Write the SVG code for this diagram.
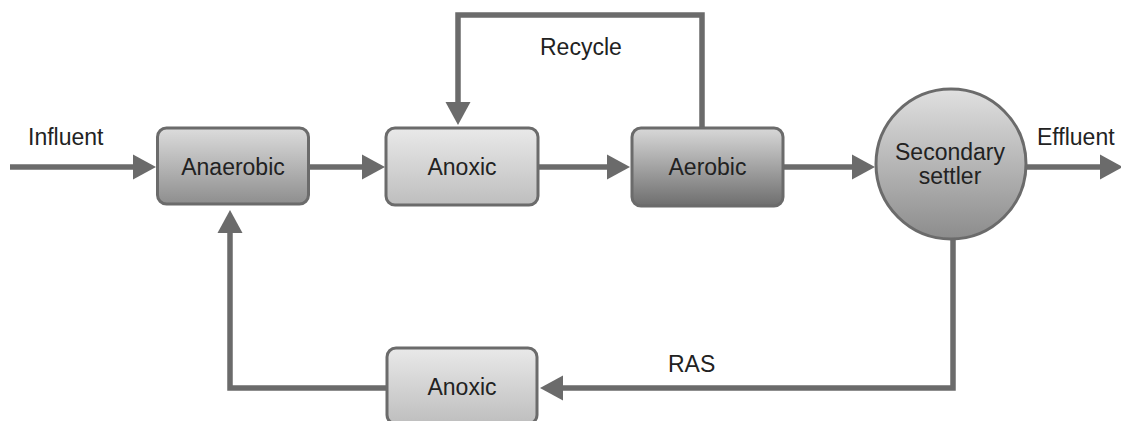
<svg xmlns="http://www.w3.org/2000/svg" width="1121" height="421" viewBox="0 0 1121 421">
  <style>
    .box { stroke: #6b6b6b; stroke-width: 3; }
    .lbl { font-family: "Liberation Sans", Arial, sans-serif; font-size: 23px; fill: #222; }
    .mid { text-anchor: middle; }
    .conn { fill: none; stroke: #6b6b6b; stroke-width: 5.5; stroke-linejoin: miter; }
  </style>
  <defs>
    <linearGradient id="gAnaerobic" x1="0" y1="0" x2="0" y2="1">
      <stop offset="0" stop-color="#dcdcdc"/>
      <stop offset="1" stop-color="#8e8e8e"/>
    </linearGradient>
    <linearGradient id="gAnoxic" x1="0" y1="0" x2="0" y2="1">
      <stop offset="0" stop-color="#e9e9e9"/>
      <stop offset="1" stop-color="#bebebe"/>
    </linearGradient>
    <linearGradient id="gAerobic" x1="0" y1="0" x2="0" y2="1">
      <stop offset="0" stop-color="#d8d8d8"/>
      <stop offset="1" stop-color="#6e6e6e"/>
    </linearGradient>
    <linearGradient id="gSettler" x1="0" y1="0" x2="0" y2="1">
      <stop offset="0" stop-color="#e0e0e0"/>
      <stop offset="1" stop-color="#8c8c8c"/>
    </linearGradient>
    <marker id="arrow" markerUnits="userSpaceOnUse" markerWidth="26" markerHeight="28" viewBox="0 -14 26 28" refX="1" refY="0" orient="auto">
      <path d="M0,-12.5 L23,0 L0,12.5 Z" fill="#6b6b6b"/>
    </marker>
  </defs>

  <g id="connectors">
    <path class="conn" d="M10,167 H134" marker-end="url(#arrow)"/>
    <path class="conn" d="M309,167 H363" marker-end="url(#arrow)"/>
    <path class="conn" d="M538,167 H608" marker-end="url(#arrow)"/>
    <path class="conn" d="M783,167 H853" marker-end="url(#arrow)"/>
    <path class="conn" d="M1026,167 H1101" marker-end="url(#arrow)"/>
    <path class="conn" d="M702,128 V15 H458 V103" marker-end="url(#arrow)"/>
    <path class="conn" d="M953,239 V388 H562" marker-end="url(#arrow)"/>
    <path class="conn" d="M387,388 H230 V232" marker-end="url(#arrow)"/>
    <text class="lbl" x="28" y="145">Influent</text>
    <text class="lbl" x="1037" y="145">Effluent</text>
    <text class="lbl" x="540" y="55">Recycle</text>
    <text class="lbl" x="668" y="372">RAS</text>
  </g>

  <g id="anaerobic">
    <rect class="box" x="157.5" y="128" width="151" height="76" rx="9" fill="url(#gAnaerobic)"/>
    <text class="lbl mid" x="233" y="175">Anaerobic</text>
  </g>
  <g id="anoxic">
    <rect class="box" x="386" y="128" width="152" height="77" rx="9" fill="url(#gAnoxic)"/>
    <text class="lbl mid" x="462" y="175">Anoxic</text>
  </g>
  <g id="aerobic">
    <rect class="box" x="632" y="128" width="151" height="78" rx="9" fill="url(#gAerobic)"/>
    <text class="lbl mid" x="707.5" y="175">Aerobic</text>
  </g>
  <g id="settler">
    <circle class="box" cx="951" cy="164" r="75" fill="url(#gSettler)"/>
    <text class="lbl mid" x="950" y="160">Secondary</text>
    <text class="lbl mid" x="950" y="184">settler</text>
  </g>
  <g id="anoxic2">
    <rect class="box" x="387" y="348" width="150" height="76" rx="9" fill="url(#gAnoxic)"/>
    <text class="lbl mid" x="462" y="395">Anoxic</text>
  </g>
</svg>
